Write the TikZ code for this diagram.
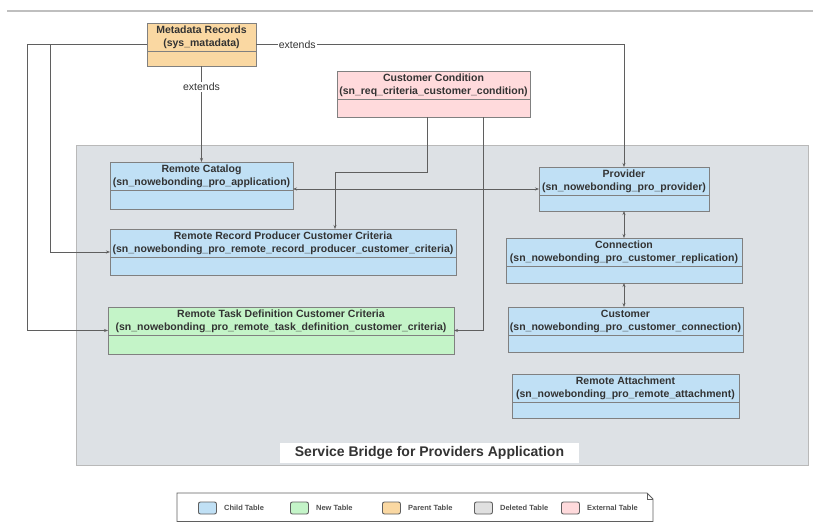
\documentclass[tikz,border=0pt]{standalone}
\usepackage{fontspec}
\setmainfont{Liberation Sans}
\usepackage{xcolor}
\usepackage{tikz}
\usetikzlibrary{positioning, arrows.meta, calc}

\definecolor{childblue}{RGB}{192,224,245}
\definecolor{newgreen}{RGB}{196,244,200}
\definecolor{parentorange}{RGB}{250,216,162}
\definecolor{extpink}{RGB}{255,218,220}
\definecolor{delgray}{RGB}{224,224,224}
\definecolor{appgray}{RGB}{221,225,229}
\definecolor{tblborder}{RGB}{128,128,128}
\definecolor{linegray}{RGB}{95,95,95}
\definecolor{inkgray}{RGB}{51,51,51}

\begin{document}
\begin{tikzpicture}[x=1pt, y=-1pt,
    tbl/.style={draw=tblborder, line width=0.8pt, anchor=north west, inner sep=0pt, outer sep=0pt},
    tbltext/.style={font=\fontsize{10.5}{13}\selectfont\bfseries, text=inkgray, align=center, inner sep=0pt},
    conn/.style={draw=linegray, line width=0.7pt},
    toarrow/.style={-{Stealth[length=4pt, width=3pt]}},
    bothways/.style={{Stealth[length=4pt, width=3pt]}-{Stealth[length=4pt, width=3pt]}},
    lbl/.style={fill=white, font=\fontsize{10.5}{12}\selectfont, text=inkgray, inner sep=1pt},
    swatch/.style={draw=linegray, line width=0.9pt, rounded corners=2pt, minimum width=18, minimum height=12, inner sep=0pt, anchor=west},
    keytext/.style={font=\fontsize{7.5}{9}\selectfont\bfseries, text=linegray!85!black, inner sep=0pt}]
    \useasboundingbox (0,0) rectangle (815,522);
    % Top rule
    \draw[gray!50, line width=1.2pt] (7,11) -- (813,11);
    % Application area
    \fill[appgray, draw=gray!55] (76,145) rectangle (808,465);
    \node[fill=white, minimum width=299, minimum height=20, inner sep=0pt, font=\fontsize{14}{16}\selectfont\bfseries, text=inkgray] (apptitle) at (429.5,453) {Service Bridge for Providers Application};
    % Tables: name/x/y/width/height/colour/title/table name
    \foreach \nm/\x/\y/\w/\h/\col/\ttl/\sub in {
        meta/147/23/109/43/parentorange/Metadata Records/(sys\_matadata),
        cond/337/71/193/46/extpink/Customer Condition/(sn\_req\_criteria\_customer\_condition),
        catalog/110/162/183/47/childblue/Remote Catalog/(sn\_nowebonding\_pro\_application),
        rrp/110/229/346/46/childblue/Remote Record Producer Customer Criteria/(sn\_nowebonding\_pro\_remote\_record\_producer\_customer\_criteria),
        rtd/108/307/346/47/newgreen/Remote Task Definition Customer Criteria/(sn\_nowebonding\_pro\_remote\_task\_definition\_customer\_criteria),
        provider/539/167/170/44/childblue/Provider/(sn\_nowebonding\_pro\_provider),
        connection/506/238/236/45/childblue/Connection/(sn\_nowebonding\_pro\_customer\_replication),
        customer/508/307/235/45/childblue/Customer/(sn\_nowebonding\_pro\_customer\_connection),
        attach/512/374/227/44/childblue/Remote Attachment/(sn\_nowebonding\_pro\_remote\_attachment)} {
        \node[tbl, fill=\col, minimum width=\w, minimum height=\h] (\nm) at (\x,\y) {};
        \node[tbltext] (\nm-t) at ([yshift=-14]\nm.north) {\ttl\\\sub};
        \draw[tblborder, line width=0.8pt] ([yshift=-28]\nm.north west) -- ([yshift=-28]\nm.north east);
    }
    % Extends links from the parent table
    \draw[conn, toarrow] (meta.east) -| (provider.north) node[lbl, pos=0.056]{extends};
    \draw[conn, toarrow] (meta.south) -- (catalog.north) node[lbl, pos=0.22]{extends};
    \draw[conn, toarrow] (meta.west) -- ++(-120,0) |- (rtd.west);
    \draw[conn, toarrow] (meta.west) -- ++(-97,0) |- (rrp.west);
    % Links from the external table
    \draw[conn, toarrow] ([xshift=-6.5]cond.south) -- ++(0,55) -| ([xshift=52]rrp.north);
    \draw[conn, toarrow] ([xshift=50]cond.south) |- (rtd.east);
    % Links between child tables
    \draw[conn, bothways] (catalog.east |- provider.west) -- (provider.west);
    \draw[conn, bothways] (provider.south) -- (connection.north);
    \draw[conn, bothways] (connection.south) -- (connection.south |- customer.north);
    % Legend
    \draw[linegray, line width=0.8pt, fill=white] (177,493) -- (647,493) -- (653,499) -- (653,521.5) -- (177,521.5) -- cycle;
    \draw[linegray, line width=0.6pt] (647,493) -- (647,499) -- (653,499);
    \foreach \i/\sx/\col/\txt in {1/198/childblue/Child Table, 2/290/newgreen/New Table, 3/382/parentorange/Parent Table, 4/474/delgray/Deleted Table, 5/561/extpink/External Table} {
        \node[swatch, fill=\col] (sw\i) at (\sx,508) {};
        \node[keytext, right=7pt of sw\i] (key\i) {\txt};
    }
\end{tikzpicture}
\end{document}
